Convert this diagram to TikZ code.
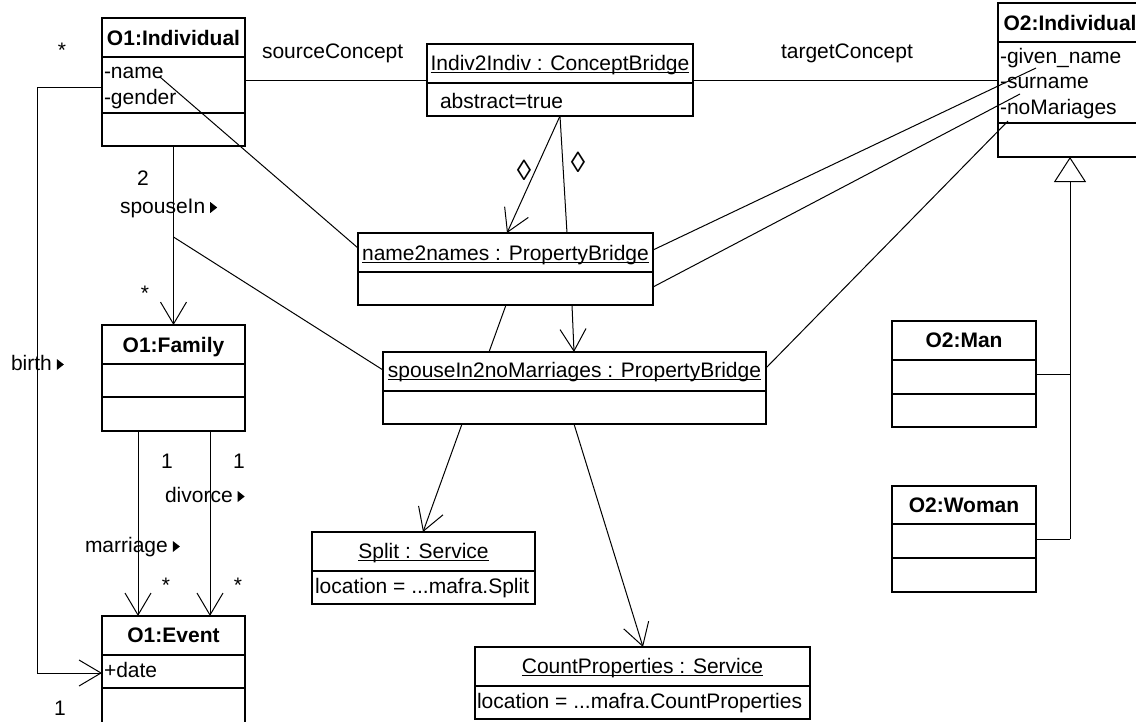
\documentclass[tikz,border=0pt]{standalone}
\usepackage{fontspec}
\setmainfont{Liberation Sans}
\usetikzlibrary{arrows.meta,calc}

\begin{document}
\begin{tikzpicture}[x=1pt,y=-1pt,
  every node/.style={font=\fontsize{21}{25}\selectfont, inner sep=0pt, outer sep=0pt},
  box/.style={draw, line width=1.5pt, anchor=north west},
  sepline/.style={line width=1.5pt},
  conn/.style={line width=1pt},
  open/.style={-{Straight Barb[length=22pt,width=26pt,line width=1pt]}},
  ctr/.style={anchor=base},
  lft/.style={anchor=base west},
  title/.style={anchor=base, font=\fontsize{21}{25}\selectfont\bfseries},
  navtri/.style={fill=black},
  uline/.style={line width=0.9pt},
  lozenge/.style={font=\fontsize{29}{30}\selectfont, anchor=center}]

% filled triangle after an association name, showing its reading direction
\newcommand\navmark[1]{\fill[navtri] ($(#1.base east)+(5,0)$) -- ++(0,-11) -- ++(7,5.5) -- cycle;}
% underline of an instance name, just below the baseline
\newcommand\instline[1]{\draw[uline] ($(#1.base west)+(0,2.5)$) -- ($(#1.base east)+(0,2.5)$);}

\useasboundingbox (0,0) rectangle (1136,721);
\clip (0,0) rectangle (1136,721);
\fill[white] (0,0) rectangle (1136,721);

% ---------- source ontology classes ----------
\node[box, minimum width=143pt, minimum height=128pt] (o1ind) at (102,18) {};
\draw[sepline] ($(o1ind.north west)+(0,39)$) -- ($(o1ind.north east)+(0,39)$);
\draw[sepline] ($(o1ind.north west)+(0,95)$) -- ($(o1ind.north east)+(0,95)$);
\node[title] (o1indT) at (173.5,45) {O1:Individual};
\node[lft] (o1indA) at (104,78) {-name};
\node[lft] (o1indB) at (104,104) {-gender};

\node[box, minimum width=143pt, minimum height=106pt] (o1fam) at (102,325) {};
\draw[sepline] ($(o1fam.north west)+(0,39)$) -- ($(o1fam.north east)+(0,39)$);
\draw[sepline] ($(o1fam.north west)+(0,72)$) -- ($(o1fam.north east)+(0,72)$);
\node[title] (o1famT) at (173.5,352) {O1:Family};

\node[box, minimum width=143pt, minimum height=124pt] (o1evt) at (102,616) {};
\draw[sepline] ($(o1evt.north west)+(0,39)$) -- ($(o1evt.north east)+(0,39)$);
\draw[sepline] ($(o1evt.north west)+(0,72)$) -- ($(o1evt.north east)+(0,72)$);
\node[title] (o1evtT) at (173.5,642) {O1:Event};
\node[lft] (o1evtA) at (104,677) {+date};

% ---------- target ontology classes ----------
\node[box, minimum width=144pt, minimum height=154pt] (o2ind) at (998,3) {};
\draw[sepline] ($(o2ind.north west)+(0,39)$) -- ($(o2ind.north east)+(0,39)$);
\draw[sepline] ($(o2ind.north west)+(0,120)$) -- ($(o2ind.north east)+(0,120)$);
\node[title] (o2indT) at (1070,30) {O2:Individual};
\node[lft] (o2indA) at (1000,63) {-given\_name};
\node[lft] (o2indB) at (1000,88) {-surname};
\node[lft] (o2indC) at (1000,114) {-noMariages};

\node[box, minimum width=144pt, minimum height=106pt] (o2man) at (892,321) {};
\draw[sepline] ($(o2man.north west)+(0,39)$) -- ($(o2man.north east)+(0,39)$);
\draw[sepline] ($(o2man.north west)+(0,73)$) -- ($(o2man.north east)+(0,73)$);
\node[title] (o2manT) at (964,347) {O2:Man};

\node[box, minimum width=144pt, minimum height=106pt] (o2wom) at (892,486) {};
\draw[sepline] ($(o2wom.north west)+(0,38)$) -- ($(o2wom.north east)+(0,38)$);
\draw[sepline] ($(o2wom.north west)+(0,72)$) -- ($(o2wom.north east)+(0,72)$);
\node[title] (o2womT) at (964,512) {O2:Woman};

% ---------- bridges and services ----------
\node[box, minimum width=266pt, minimum height=72pt] (i2i) at (427,44) {};
\draw[sepline] ($(i2i.north west)+(0,39)$) -- ($(i2i.north east)+(0,39)$);
\node[ctr] (i2iT) at (560,70) {Indiv2Indiv : ConceptBridge};
\instline{i2iT}
\node[lft] (i2iA) at (440,108) {abstract=true};

\node[box, minimum width=295pt, minimum height=72pt] (n2n) at (358,233) {};
\draw[sepline] ($(n2n.north west)+(0,39)$) -- ($(n2n.north east)+(0,39)$);
\node[ctr] (n2nT) at (505.5,260) {name2names : PropertyBridge};
\instline{n2nT}

\node[box, minimum width=383pt, minimum height=72pt] (sp2) at (383,352) {};
\draw[sepline] ($(sp2.north west)+(0,39)$) -- ($(sp2.north east)+(0,39)$);
\node[ctr] (sp2T) at (574.5,377) {spouseIn2noMarriages : PropertyBridge};
\instline{sp2T}

\node[box, minimum width=223pt, minimum height=72pt] (split) at (312,532) {};
\draw[sepline] ($(split.north west)+(0,39)$) -- ($(split.north east)+(0,39)$);
\node[ctr] (splitT) at (423.5,558) {Split : Service};
\instline{splitT}
\node[lft] (splitA) at (315,593) {location = ...mafra.Split};

\node[box, minimum width=335pt, minimum height=72pt] (count) at (475,647) {};
\draw[sepline] ($(count.north west)+(0,39)$) -- ($(count.north east)+(0,39)$);
\node[ctr] (countT) at (642.5,673) {CountProperties : Service};
\instline{countT}
\node[lft] (countA) at (477,708) {location = ...mafra.CountProperties};

% ---------- concept bridge links ----------
\draw[conn] (o1ind.east |- i2i.west) -- (i2i.west);
\draw[conn] (i2i.east) -- (o2ind.west |- i2i.east);
\node[lft] (srcL) at (262,58) {sourceConcept};
\node[lft] (tgtL) at (781,58) {targetConcept};

% aggregation of property bridges
\coordinate (i2iout) at ($(i2i.south west)+(133,0)$);
\draw[conn, open] (i2iout) -- ($(n2n.north west)+(149,0)$);
\draw[conn] (i2iout) -- ($(n2n.north west)+(209,0)$);
\node[lozenge] (dia1) at (524,170.5) {◊};
\node[lozenge] (dia2) at (578,162) {◊};

% property bridge to source/target attributes
\draw[conn] ($(o1ind.north west)+(58,59)$) -- ($(n2n.north west)+(0,15)$);
\draw[conn] ($(o2ind.north west)+(38,65)$) -- ($(n2n.north east)+(0,17)$);
\draw[conn] ($(o2ind.north west)+(22,91)$) -- ($(n2n.north east)+(0,54)$);
\draw[conn] ($(o2ind.north west)+(10,118)$) -- ($(sp2.north east)+(0,16)$);

% bridge to bridge
\draw[conn] ($(n2n.south west)+(148,0)$) -- ($(sp2.north west)+(106,0)$);
\draw[conn, open] ($(n2n.south west)+(214,0)$) -- ($(sp2.north west)+(191,0)$);

% bridge to services
\draw[conn, open] ($(sp2.south west)+(79,0)$) -- ($(split.north west)+(111,0)$);
\draw[conn, open] ($(sp2.south west)+(191,0)$) -- ($(count.north west)+(168,0)$);

% ---------- source ontology associations ----------
\draw[conn, open] (o1ind.south) -- (o1fam.north);
\coordinate (spj) at ($(o1ind.south)+(0,91)$);
\draw[conn] (spj) -- ($(sp2.north west)+(0,18)$);
\node[ctr] (m1) at (62,57) {*};
\node[ctr] (m2) at (143,185) {2};
\node[lft] (spL) at (120,213) {spouseIn};
\navmark{spL}
\node[ctr] (m3) at (145,300) {*};

\draw[conn, open] ($(o1fam.south west)+(36,0)$) -- ($(o1evt.north west)+(36,0)$);
\draw[conn, open] ($(o1fam.south west)+(108,0)$) -- ($(o1evt.north west)+(108,0)$);
\node[ctr] (m4) at (167,468) {1};
\node[ctr] (m5) at (239,468) {1};
\node[lft] (divL) at (165,502) {divorce};
\navmark{divL}
\node[lft] (marL) at (85,552) {marriage};
\navmark{marL}
\node[ctr] (m6) at (166,592) {*};
\node[ctr] (m7) at (238,592) {*};

\coordinate (bstart) at ($(o1ind.north west)+(0,69)$);
\coordinate (bend) at ($(o1evt.north west)+(0,57)$);
\draw[conn, open] (bstart) -- ++(-65,0) |- (bend);
\node[lft] (birL) at (11,370) {birth};
\navmark{birL}
\node[ctr] (m8) at (60,715) {1};

% ---------- generalization ----------
\draw[conn, -{Triangle[open,length=25pt,width=32pt,line width=1pt]}]
  (o2wom.east -| o2ind.south) -- (o2ind.south);
\draw[conn] (o2man.east) -- (o2man.east -| o2ind.south);
\draw[conn] (o2wom.east) -- (o2wom.east -| o2ind.south);

\end{tikzpicture}
\end{document}
